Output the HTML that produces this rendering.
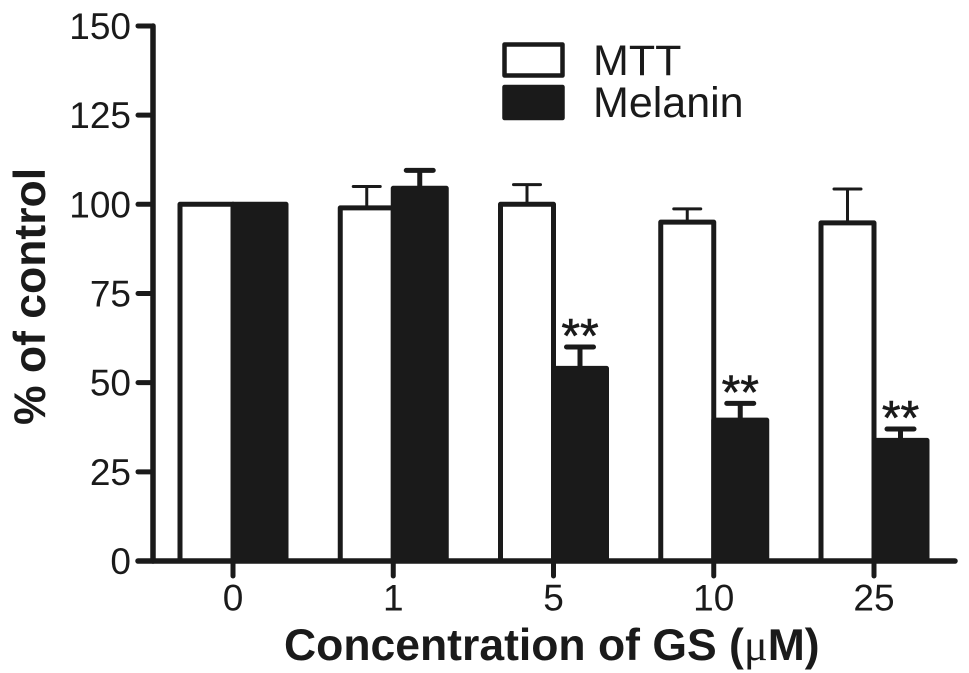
<!DOCTYPE html>
<html>
<head>
<meta charset="utf-8">
<title>Concentration of GS chart</title>
<style>
html,body{margin:0;padding:0;background:#fff;}
svg{display:block;}
text{font-family:"Liberation Sans",sans-serif;fill:#1a1a1a;}
</style>
</head>
<body>
<svg id="chart" width="969" height="673" viewBox="0 0 969 673" xmlns="http://www.w3.org/2000/svg">
<rect x="0" y="0" width="969" height="673" fill="#fff"/>
<g id="bars"></g>
<g id="axes"></g>
<g>
<rect x="504.5" y="44.5" width="58" height="31" fill="#fff" stroke="#1a1a1a" stroke-width="4.5" stroke-linejoin="round"/>
<rect x="504.5" y="87" width="58" height="31" fill="#1a1a1a" stroke="#1a1a1a" stroke-width="4.5" stroke-linejoin="round"/>
<text x="593" y="75" font-size="43">MTT</text>
<text x="593" y="117" font-size="43">Melanin</text>
</g>
<text transform="translate(45,425) rotate(-90)" font-size="44.5" font-weight="bold">% of control</text>
<text x="284" y="660" font-size="44.5" font-weight="bold">Concentration of GS (<tspan font-family="Liberation Serif" font-weight="normal">μ</tspan>M)</text>
</svg>
<script>
const categories = ['0', '1', '5', '10', '25'];
const mttValues = [100, 99, 100, 95, 94.8];
const mttErrors = [0, 6, 5.5, 3.7, 9.5];
const melaninValues = [100, 104.5, 54, 39.5, 33.8];
const melaninErrors = [0, 5, 6, 4.7, 3.2];
const melaninSignificance = ['', '', '**', '**', '**'];
const yTicks = [0, 25, 50, 75, 100, 125, 150];

const INK = '#1a1a1a';
const NS = 'http://www.w3.org/2000/svg';
const Y0 = 561, Y_PER_UNIT = 3.567;
const GROUP0 = 233, GROUP_STEP = 160.25, BAR_W = 53;
function yScale(v) { return Y0 - v * Y_PER_UNIT; }
function xScale(i) { return GROUP0 + i * GROUP_STEP; }
function make(parent, tag, attrs) {
  const el = document.createElementNS(NS, tag);
  for (const k in attrs) el.setAttribute(k, attrs[k]);
  parent.appendChild(el);
  return el;
}
const barsG = document.getElementById('bars');
const axesG = document.getElementById('axes');

function drawError(x, value, err, sw, capW, name) {
  if (!err) return;
  const g = make(barsG, 'path', {
    d: 'M' + x + ' ' + yScale(value) + 'V' + yScale(value + err) + 'M' + (x - capW / 2) + ' ' + yScale(value + err) + 'H' + (x + capW / 2),
    fill: 'none', stroke: INK, 'stroke-width': sw, 'stroke-linecap': 'round'
  });
  
  
}

categories.forEach(function (cat, i) {
  const c = xScale(i);
  drawError(c - BAR_W / 2, mttValues[i], mttErrors[i], 3, 27, 'error-bar-mtt-' + cat);
  drawError(c + BAR_W / 2, melaninValues[i], melaninErrors[i], 5, 27, 'error-bar-melanin-' + cat);

  const w = make(barsG, 'rect', {
    x: c - BAR_W, y: yScale(mttValues[i]), width: BAR_W, height: Y0 - yScale(mttValues[i]),
    fill: '#fff', stroke: INK, 'stroke-width': 5, 'stroke-linejoin': 'round'
  });
  
  

  const b = make(barsG, 'rect', {
    x: c, y: yScale(melaninValues[i]), width: BAR_W, height: Y0 - yScale(melaninValues[i]),
    fill: INK, stroke: INK, 'stroke-width': 5, 'stroke-linejoin': 'round'
  });
  
  

  if (melaninSignificance[i]) {
    const s = make(barsG, 'text', {
      x: c + BAR_W / 2, y: yScale(melaninValues[i] + melaninErrors[i]) + 5,
      'font-size': 48, 'text-anchor': 'middle', stroke: INK, 'stroke-width': 0.6
    });
    s.textContent = melaninSignificance[i];
    
    
  }

  const t = make(axesG, 'line', {
    x1: c, x2: c, y1: Y0, y2: 576, stroke: INK, 'stroke-width': 5, 'stroke-linecap': 'round'
  });
  
  

  const l = make(axesG, 'text', { x: c, y: 610.5, 'font-size': 37, 'text-anchor': 'middle' });
  l.textContent = cat;
  
  
});

yTicks.forEach(function (v) {
  const t = make(axesG, 'line', {
    x1: 138, x2: 153, y1: yScale(v), y2: yScale(v), stroke: INK, 'stroke-width': 5, 'stroke-linecap': 'round'
  });
  
  

  const l = make(axesG, 'text', { x: 131, y: yScale(v) + 13, 'font-size': 37, 'text-anchor': 'end' });
  l.textContent = v;
  
  
});

const yAxis = make(axesG, 'line', {
  x1: 153, x2: 153, y1: yScale(yTicks[yTicks.length - 1]), y2: Y0, stroke: INK, 'stroke-width': 5.5, 'stroke-linecap': 'round'
});



const xAxis = make(axesG, 'line', {
  x1: 138, x2: 955, y1: Y0, y2: Y0, stroke: INK, 'stroke-width': 5.5, 'stroke-linecap': 'round'
});


</script>
</body>
</html>
